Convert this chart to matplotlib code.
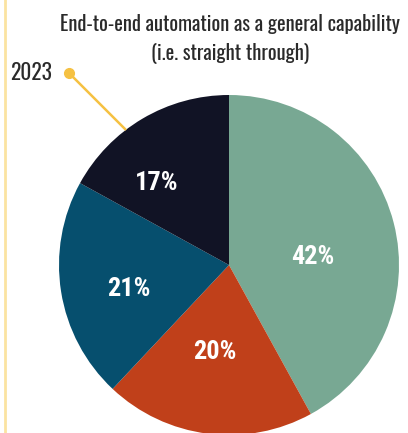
import matplotlib.pyplot as plt

# share of respondents, 2023
labels = ['Green', 'Orange', 'Blue', 'Navy']
values = [42, 20, 21, 17]
colors = ['#78a893', '#c0401a', '#064f6e', '#111325']

title = 'End-to-end automation as a general capability\n(i.e. straight through)'
year = '2023'

FONT = ['Roboto Condensed', 'DejaVu Sans']
LIGHT = ['Oswald', 'Roboto Condensed', 'DejaVu Sans']
W, H = 408, 433
fig = plt.figure(figsize=(W / 100, H / 100), dpi=100)
ax = fig.add_axes([0, 0, 1, 1])

cx, cy, r = 229, H - 265, 170
wedges, texts, pcts = ax.pie(values, colors=colors, startangle=90, counterclock=False,
                             center=(cx, cy), radius=r, autopct='%d%%', pctdistance=0.58,
                             wedgeprops=dict(linewidth=0))

# hand-placed label spots (pixels from top-left)
label_pos = [(313, 257), (215, 352), (129, 289), (157, 183)]
for t, (px, py) in zip(pcts, label_pos):
    t.set_position((px, H - py))
    t.set_color('white')
    t.set_fontsize(19)
    t.set_fontweight('bold')
    t.set_family(FONT)

ax.set_xlim(0, W)
ax.set_ylim(0, H)
ax.axis('off')

ax.text(230, H - 39, title, ha='center', va='center', fontsize=14.8, color='#2a2a2a',
        family=LIGHT, fontweight=300, linespacing=1.5)

# year marker with pointer line
ax.plot([69, 126], [H - 73, H - 130], color='#f5c142', lw=1.8, solid_capstyle='butt')
ax.plot([69], [H - 73], 'o', color='#f5c142', ms=7)
ax.text(52, H - 73, year, ha='right', va='center', fontsize=15.5, color='#2a2a2a',
        family=LIGHT, fontweight=300)

# left rule
ax.plot([5, 5], [0, H], color='#fbe3a1', lw=2)

fig.savefig('out.png', dpi=100)
